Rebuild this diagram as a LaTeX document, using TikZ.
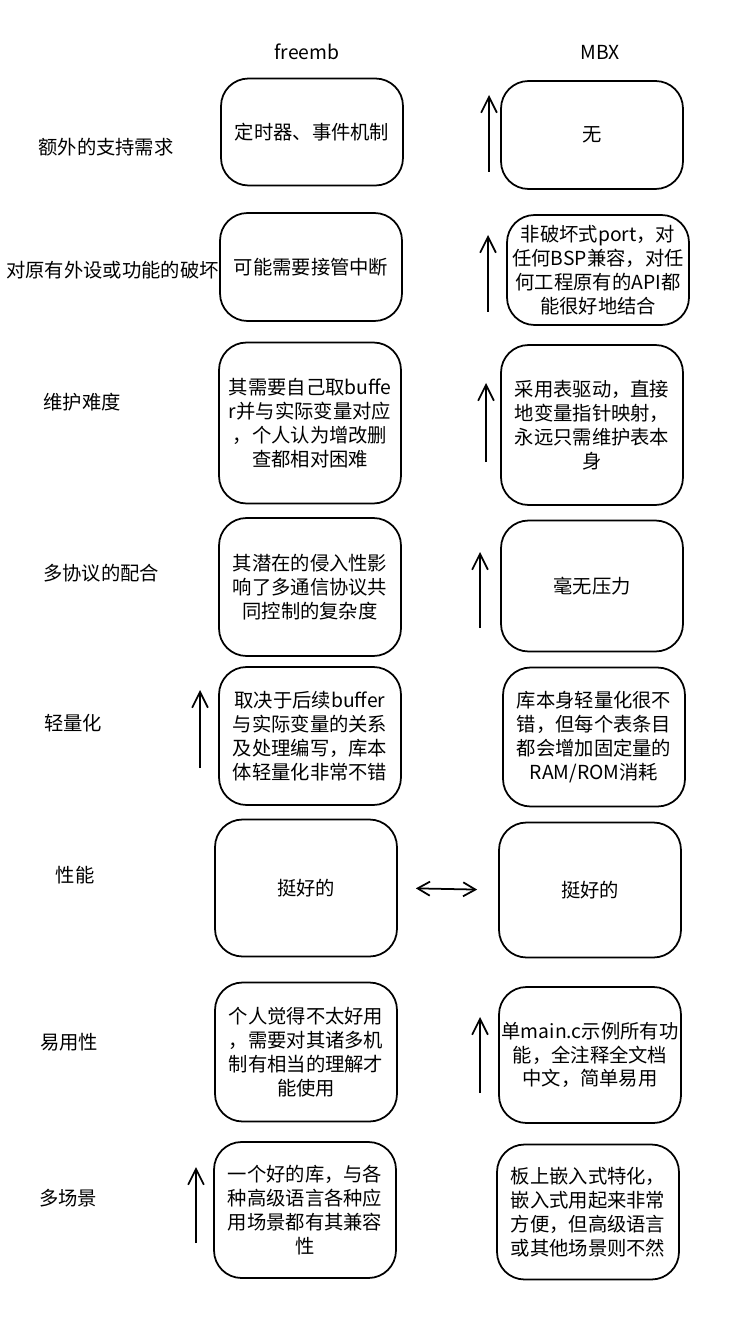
\documentclass[tikz,border=0pt]{standalone}
\usepackage{fontspec}
\setmainfont{Noto Sans CJK SC}
\usetikzlibrary{arrows.meta}

\begin{document}
\begin{tikzpicture}[x=0.02cm,y=-0.02cm,font=\fontsize{11}{13.6}\selectfont,
  card/.style={draw,line width=1pt,rounded corners=0.55cm,minimum width=3.64cm,align=center,inner sep=1pt},
  up/.style={-{Straight Barb[length=9pt,width=9pt]},line width=1pt},
  both/.style={{Straight Barb[length=7pt,width=8pt]}-{Straight Barb[length=7pt,width=8pt]},line width=1pt}]
  \useasboundingbox (0,0) rectangle (745,1334);
  % column heads
  \node (hf) at (307,52) {freemb};
  \node (hm) at (600,52) {MBX};
  % row labels
  \foreach \n/\x/\y/\txt in {1/106/147/额外的支持需求,3/82/402/维护难度,4/101/573/多协议的配合,5/73/723/轻量化,6/75/875/性能,7/69/1042/易用性,8/68/1198/多场景}
    \node (q\n) at (\x,\y) {\txt};
  \node[anchor=west] (q2) at (0,270) {对原有外设或功能的破坏};
  % freemb column
  \node[card,minimum height=2.14cm] (f1) at (312,132) {定时器、事件机制};
  \node[card,minimum height=2.16cm] (f2) at (311,267) {可能需要接管中断};
  \node[card,minimum height=3.22cm] (f3) at (310,423) {其需要自己取buffe\\r并与实际变量对应\\，个人认为增改删\\查都相对困难};
  \node[card,minimum height=2.76cm] (f4) at (310,587) {其潜在的侵入性影\\响了多通信协议共\\同控制的复杂度};
  \node[card,minimum height=2.76cm] (f5) at (310,736) {取决于后续buffer\\与实际变量的关系\\及处理编写，库本\\体轻量化非常不错};
  \node[card,minimum height=2.74cm] (f6) at (306,888) {挺好的};
  \node[card,minimum height=2.78cm] (f7) at (306,1052) {个人觉得不太好用\\，需要对其诸多机\\制有相当的理解才\\能使用};
  \node[card,minimum height=2.72cm] (f8) at (305,1210) {一个好的库，与各\\种高级语言各种应\\用场景都有其兼容\\性};
  % MBX column
  \node[card,minimum height=2.16cm] (m1) at (592,135) {无};
  \node[card,minimum height=2.2cm] (m2) at (598,270) {非破坏式port，对\\任何BSP兼容，对任\\何工程原有的API都\\能很好地结合};
  \node[card,minimum height=3.2cm] (m3) at (592,425) {采用表驱动，直接\\地变量指针映射，\\永远只需维护表本\\身};
  \node[card,minimum height=2.62cm] (m4) at (592,586) {毫无压力};
  \node[card,minimum height=2.78cm] (m5) at (594,737) {库本身轻量化很不\\错，但每个表条目\\都会增加固定量的\\RAM/ROM消耗};
  \node[card,minimum height=2.7cm] (m6) at (590,890) {挺好的};
  \node[card,minimum height=2.72cm] (m7) at (590,1055) {单main.c示例所有功\\能，全注释全文档\\中文，简单易用};
  \node[card,minimum height=2.7cm] (m8) at (588,1212) {板上嵌入式特化，\\嵌入式用起来非常\\方便，但高级语言\\或其他场景则不然};
  % up arrows
  \foreach \n/\x/\ya/\yb in {1/489/172/95,2/488/312/235,3/486/462/383,4/480/628/552,5/200/768/690,7/480/1093/1017,8/196/1243/1167} {
    \coordinate (s\n) at (\x,\ya);
    \coordinate (e\n) at (\x,\yb);
    \draw[up] (s\n) -- (e\n);
  }
  \draw[both,shorten <=0.36cm,shorten >=0.42cm] (f6.east) -- (m6.west);
\end{tikzpicture}
\end{document}
